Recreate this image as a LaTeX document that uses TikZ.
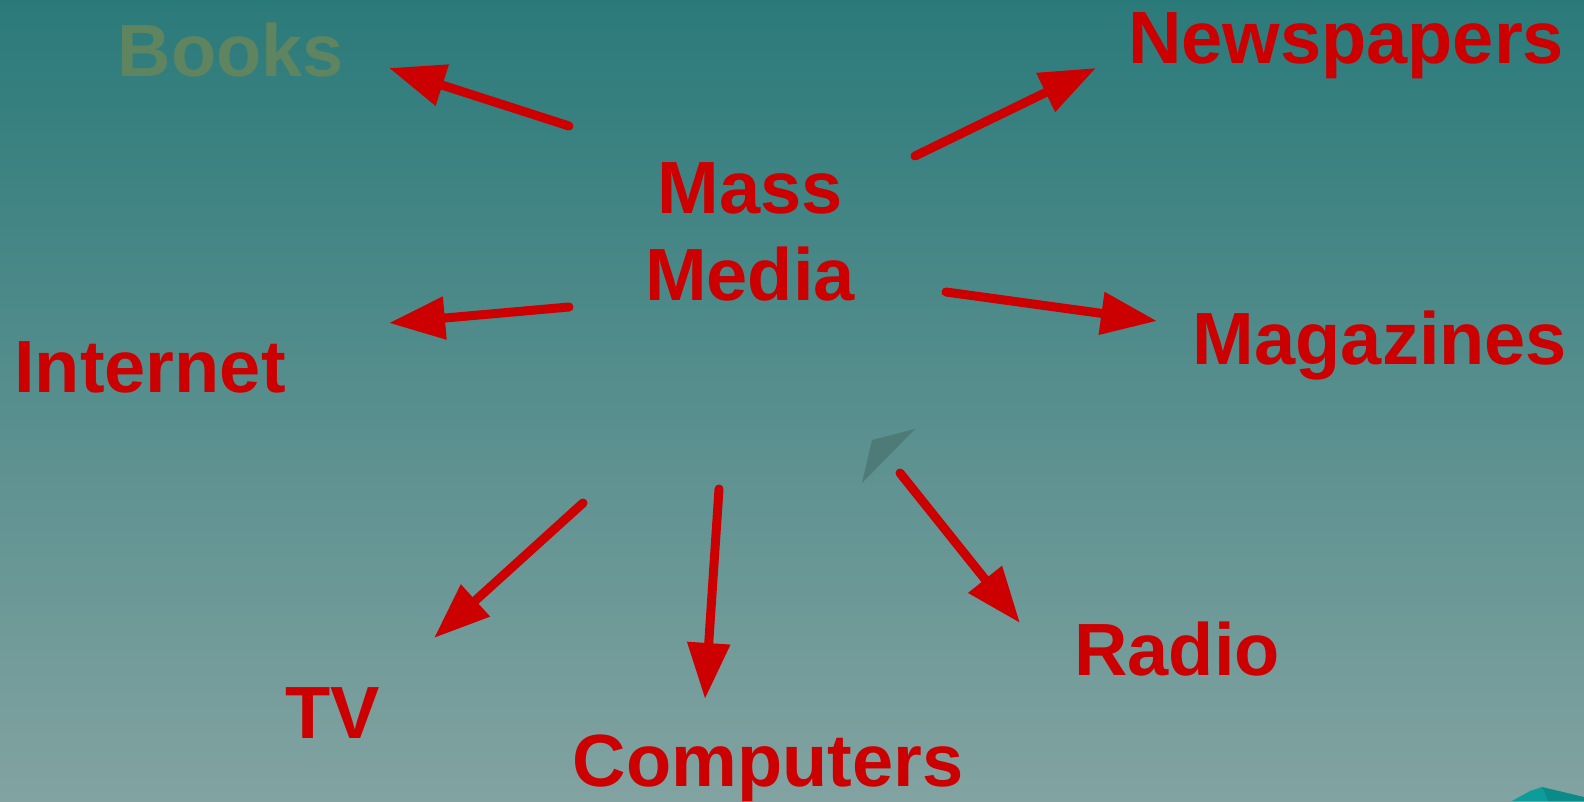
\documentclass[tikz,border=0pt]{standalone}
\usepackage{fontspec}
\setmainfont{Liberation Sans}
\usetikzlibrary{arrows.meta}
\definecolor{bgtop}{HTML}{2B7A7A}
\definecolor{bgbot}{HTML}{82A3A1}
\definecolor{mred}{HTML}{CC0000}
\definecolor{booksc}{HTML}{5E8460}
\definecolor{greytri}{HTML}{4E7B77}
\definecolor{tealA}{HTML}{0E9C9A}
\definecolor{tealB}{HTML}{0A8A88}
\tikzset{
  lbl/.style={font=\fontsize{74}{80}\selectfont\bfseries, text=mred, anchor=base, inner sep=0pt},
  arr/.style={draw=mred, line width=9pt, line cap=round, -{Triangle[length=56pt,width=41pt]}},
}
\begin{document}
\begin{tikzpicture}[x=1pt,y=-1pt]
\useasboundingbox (0,0) rectangle (1584,801);
\shade[top color=bgtop, bottom color=bgbot] (0,0) rectangle (1584,801);
% labels
\node[lbl, text=booksc] (books) at (231,76) {Books};
\node[lbl] (news) at (1346,63) {Newspapers};
\node[lbl] (mass) at (750,213) {Mass};
\node[lbl] (media) at (750,300) {Media};
\node[lbl] (internet) at (150,392) {Internet};
\node[lbl] (mags) at (1380,364) {Magazines};
\node[lbl] (radio) at (1177,675) {Radio};
\node[lbl] (tv) at (333,738) {TV};
\node[lbl] (comp) at (768,786) {Computers};
% arrow ends
\coordinate (s1) at (569,126); \coordinate (e1) at (389,68);
\coordinate (s2) at (915,156); \coordinate (e2) at (1096,68);
\coordinate (s3) at (569,307); \coordinate (e3) at (389,323);
\coordinate (s4) at (946,292); \coordinate (e4) at (1157,321);
\coordinate (s5) at (583,503); \coordinate (e5) at (434,638);
\coordinate (s6) at (719,489); \coordinate (e6) at (705,699);
\coordinate (s7) at (900,473); \coordinate (e7) at (1020,623);
\draw[arr] (s1) -- (e1);
\draw[arr] (s2) -- (e2);
\draw[arr] (s3) -- (e3);
\draw[arr] (s4) -- (e4);
\draw[arr] (s5) -- (e5);
\draw[arr] (s6) -- (e6);
\draw[arr] (s7) -- (e7);
% small grey shape
\fill[greytri] (915,429) -- (872,440) -- (862,483) -- cycle;
% teal shape bottom right
\fill[tealA] (1512,801) -- (1530,791) -- (1542,787) -- (1548,801) -- cycle;
\fill[tealB] (1542,787) -- (1584,797) -- (1584,801) -- (1548,801) -- cycle;
\end{tikzpicture}
\end{document}
